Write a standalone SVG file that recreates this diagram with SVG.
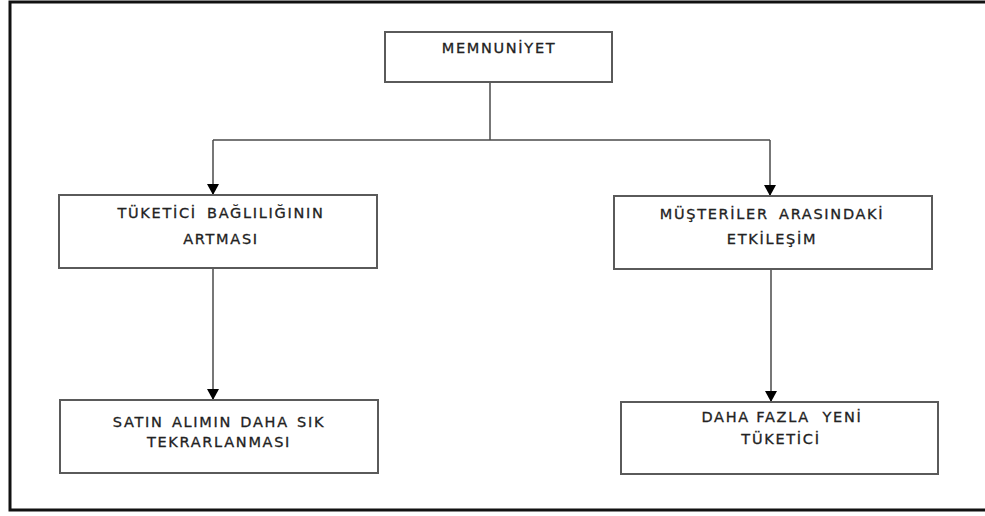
<svg xmlns="http://www.w3.org/2000/svg" width="985" height="516" viewBox="0 0 985 516">
  <style>
    .box { fill: #ffffff; stroke: #5a5a5a; stroke-width: 2; }
    .lbl { font-family: "DejaVu Sans", Verdana, sans-serif; font-size: 14.5px; letter-spacing: 1.7px; fill: #222222; stroke: #222222; stroke-width: 0.3; text-anchor: middle; }
    .wire { fill: none; stroke: #4a4a4a; stroke-width: 1.5; }
  </style>
  <defs>
    <marker id="arrow" markerWidth="12" markerHeight="12" refX="11" refY="6" orient="auto" markerUnits="userSpaceOnUse">
      <path d="M0,0 L11,6 L0,12 Z" fill="#000000"/>
    </marker>
  </defs>

  <rect width="985" height="516" fill="#ffffff"/>
  <!-- outer frame (open on the right) -->
  <path d="M990,2 L10,2 L10,510 L990,510" fill="none" stroke="#111111" stroke-width="3"/>

  <g id="connectors">
    <path class="wire" d="M490,82 L490,140"/>
    <path class="wire" d="M213,140 L770,140"/>
    <path class="wire" d="M213,140 L213,195" marker-end="url(#arrow)"/>
    <path class="wire" d="M770,140 L770,196" marker-end="url(#arrow)"/>
    <path class="wire" d="M213,268 L213,400" marker-end="url(#arrow)"/>
    <path class="wire" d="M771,269 L771,402" marker-end="url(#arrow)"/>
  </g>

  <g id="memnuniyet">
    <rect class="box" x="385" y="32" width="227" height="50"/>
    <text class="lbl" x="499" y="53">MEMNUNİYET</text>
  </g>

  <g id="tuketici-bagliligi">
    <rect class="box" x="59" y="195" width="318" height="73"/>
    <text class="lbl" x="221" y="218" word-spacing="4">TÜKETİCİ BAĞLILIĞININ</text>
    <text class="lbl" x="221" y="244">ARTMASI</text>
  </g>

  <g id="musteri-etkilesim">
    <rect class="box" x="614" y="196" width="318" height="73"/>
    <text class="lbl" x="772" y="219" word-spacing="4">MÜŞTERİLER ARASINDAKİ</text>
    <text class="lbl" x="772" y="244">ETKİLEŞİM</text>
  </g>

  <g id="satin-alim">
    <rect class="box" x="60" y="400" width="318" height="73"/>
    <text class="lbl" x="219" y="427" word-spacing="2">SATIN ALIMIN DAHA SIK</text>
    <text class="lbl" x="219" y="447">TEKRARLANMASI</text>
  </g>

  <g id="yeni-tuketici">
    <rect class="box" x="621" y="402" width="317" height="72"/>
    <text class="lbl" x="782" y="422" xml:space="preserve">DAHA FAZLA  YENİ</text>
    <text class="lbl" x="781" y="444">TÜKETİCİ</text>
  </g>
</svg>
